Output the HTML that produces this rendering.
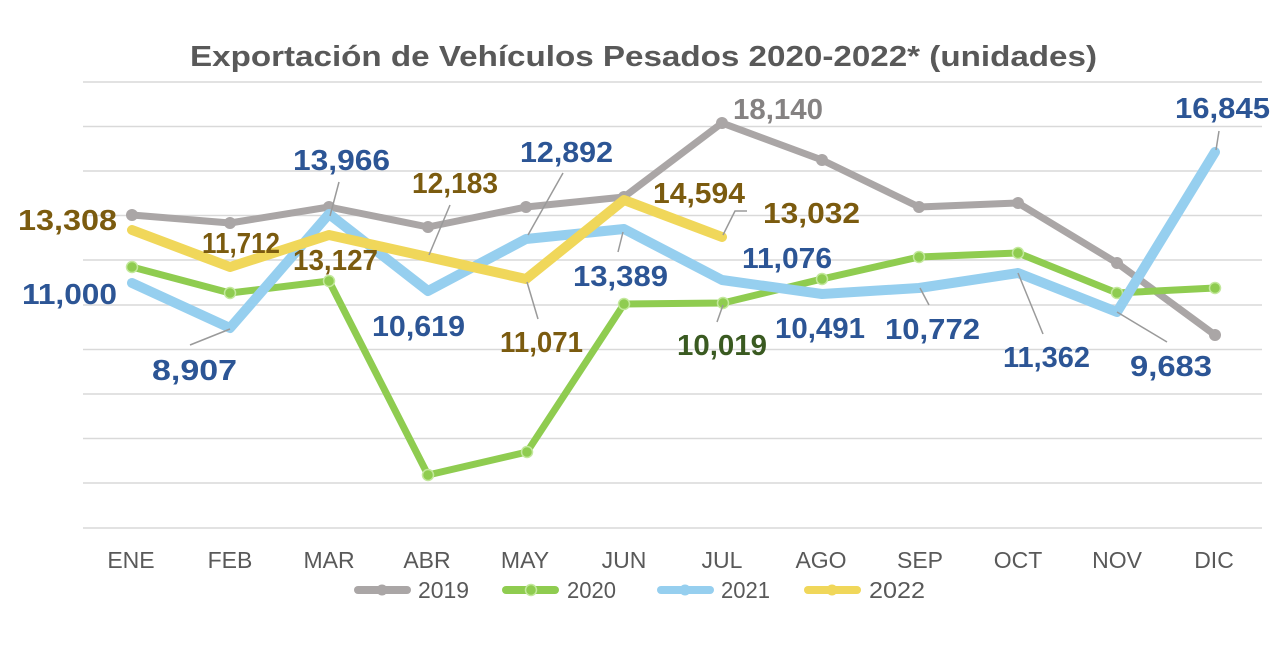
<!DOCTYPE html>
<html><head><meta charset="utf-8"><style>
html,body{margin:0;padding:0;background:#fff;}
svg{display:block;}
.lbl{font-family:"Liberation Sans",sans-serif;font-weight:bold;font-size:29px;}
.b{fill:#2c5595}.br{fill:#7b5b0f}.g{fill:#3a5a21}.gr{fill:#858282}
.ax{font-family:"Liberation Sans",sans-serif;font-size:23px;fill:#595959;}
.lg{font-family:"Liberation Sans",sans-serif;font-size:23px;fill:#595959;}
</style></head><body>
<svg width="1280" height="650" viewBox="0 0 1280 650" xmlns="http://www.w3.org/2000/svg">
<rect width="1280" height="650" fill="#fff"/>
<text x="190" y="66" textLength="907" lengthAdjust="spacingAndGlyphs" font-family="Liberation Sans, sans-serif" font-weight="bold" font-size="29" fill="#595959">Exportación de Vehículos Pesados 2020-2022* (unidades)</text>
<g stroke="#d9d9d9" stroke-width="1.5">
<line x1="83" x2="1262" y1="82" y2="82"/>
<line x1="83" x2="1262" y1="126.5" y2="126.5"/>
<line x1="83" x2="1262" y1="171" y2="171"/>
<line x1="83" x2="1262" y1="215.5" y2="215.5"/>
<line x1="83" x2="1262" y1="260" y2="260"/>
<line x1="83" x2="1262" y1="305" y2="305"/>
<line x1="83" x2="1262" y1="349.5" y2="349.5"/>
<line x1="83" x2="1262" y1="394" y2="394"/>
<line x1="83" x2="1262" y1="438.5" y2="438.5"/>
<line x1="83" x2="1262" y1="483" y2="483"/>
<line x1="83" x2="1262" y1="528" y2="528"/>
</g>
<!-- 2019 gray -->
<polyline fill="none" stroke="#aaa6a6" stroke-width="7" stroke-linejoin="round" stroke-linecap="round" points="132,215 230,223 329,207 428,227 526,207 624,197 722,123 822,160 919,207 1018,203 1117,263 1215,335"/>
<g fill="#aaa6a6">
<circle cx="132" cy="215" r="6"/><circle cx="230" cy="223" r="6"/><circle cx="329" cy="207" r="6"/><circle cx="428" cy="227" r="6"/><circle cx="526" cy="207" r="6"/><circle cx="624" cy="197" r="6"/><circle cx="722" cy="123" r="6"/><circle cx="822" cy="160" r="6"/><circle cx="919" cy="207" r="6"/><circle cx="1018" cy="203" r="6"/><circle cx="1117" cy="263" r="6"/><circle cx="1215" cy="335" r="6"/>
</g>
<!-- 2020 green -->
<polyline fill="none" stroke="#8fcc50" stroke-width="7" stroke-linejoin="round" stroke-linecap="round" points="132,267 230,293 329,281 428,475 527,452 624,304 723,303 822,279 919,257 1018,253 1117,293 1215,288"/>
<g fill="#8fcc50" stroke="#c3e89c" stroke-width="1.5">
<circle cx="132" cy="267" r="5.5"/><circle cx="230" cy="293" r="5.5"/><circle cx="329" cy="281" r="5.5"/><circle cx="428" cy="475" r="5.5"/><circle cx="527" cy="452" r="5.5"/><circle cx="624" cy="304" r="5.5"/><circle cx="723" cy="303" r="5.5"/><circle cx="822" cy="279" r="5.5"/><circle cx="919" cy="257" r="5.5"/><circle cx="1018" cy="253" r="5.5"/><circle cx="1117" cy="293" r="5.5"/><circle cx="1215" cy="288" r="5.5"/>
</g>
<!-- 2021 blue -->
<polyline fill="none" stroke="#96cfef" stroke-width="10" stroke-linejoin="round" stroke-linecap="round" points="132,283 230,328 329,214 428,291 526,239 624,229 722,280 822,294 919,288 1018,273 1117,312 1215,152"/>
<!-- 2022 yellow -->
<polyline fill="none" stroke="#f0d75a" stroke-width="10" stroke-linejoin="round" stroke-linecap="round" points="132,230 230,267 329,235 428,257 526,279 624,200 722,237"/>
<!-- leader lines -->
<g stroke="#9a9a9a" stroke-width="1.5" fill="none">
<line x1="339" y1="182" x2="330" y2="216"/>
<line x1="190" y1="345" x2="230" y2="329"/>
<line x1="450" y1="205" x2="429" y2="255"/>
<line x1="563" y1="173" x2="528" y2="235"/>
<line x1="527" y1="282" x2="538" y2="319"/>
<line x1="623" y1="232" x2="618" y2="252"/>
<polyline points="747,211 735,211 723,235"/>
<line x1="723" y1="305" x2="717" y2="322"/>
<line x1="920" y1="288" x2="929" y2="305"/>
<line x1="1018" y1="273" x2="1043" y2="334"/>
<line x1="1117" y1="312" x2="1167" y2="342"/>
<line x1="1219" y1="131" x2="1216" y2="150"/>
</g>
<!-- labels -->
<text class="lbl br" x="18" y="230" textLength="99" lengthAdjust="spacingAndGlyphs">13,308</text>
<text class="lbl b" x="22" y="304" textLength="95" lengthAdjust="spacingAndGlyphs">11,000</text>
<text class="lbl b" x="152" y="380" textLength="85" lengthAdjust="spacingAndGlyphs">8,907</text>
<text class="lbl b" x="293" y="170" textLength="97" lengthAdjust="spacingAndGlyphs">13,966</text>
<text class="lbl br" x="202" y="253" textLength="78" lengthAdjust="spacingAndGlyphs">11,712</text>
<text class="lbl br" x="293" y="270" textLength="85" lengthAdjust="spacingAndGlyphs">13,127</text>
<text class="lbl b" x="372" y="336" textLength="93" lengthAdjust="spacingAndGlyphs">10,619</text>
<text class="lbl br" x="412" y="193" textLength="86" lengthAdjust="spacingAndGlyphs">12,183</text>
<text class="lbl b" x="520" y="162" textLength="93" lengthAdjust="spacingAndGlyphs">12,892</text>
<text class="lbl br" x="500" y="352" textLength="83" lengthAdjust="spacingAndGlyphs">11,071</text>
<text class="lbl b" x="573" y="286" textLength="95" lengthAdjust="spacingAndGlyphs">13,389</text>
<text class="lbl br" x="653" y="203" textLength="92" lengthAdjust="spacingAndGlyphs">14,594</text>
<text class="lbl br" x="763" y="223" textLength="97" lengthAdjust="spacingAndGlyphs">13,032</text>
<text class="lbl b" x="742" y="268" textLength="90" lengthAdjust="spacingAndGlyphs">11,076</text>
<text class="lbl g" x="677" y="355" textLength="90" lengthAdjust="spacingAndGlyphs">10,019</text>
<text class="lbl b" x="775" y="338" textLength="90" lengthAdjust="spacingAndGlyphs">10,491</text>
<text class="lbl gr" x="733" y="119" textLength="90" lengthAdjust="spacingAndGlyphs">18,140</text>
<text class="lbl b" x="885" y="339" textLength="95" lengthAdjust="spacingAndGlyphs">10,772</text>
<text class="lbl b" x="1003" y="367" textLength="87" lengthAdjust="spacingAndGlyphs">11,362</text>
<text class="lbl b" x="1130" y="376" textLength="82" lengthAdjust="spacingAndGlyphs">9,683</text>
<text class="lbl b" x="1175" y="118" textLength="95" lengthAdjust="spacingAndGlyphs">16,845</text>
<!-- x axis -->
<g class="ax" text-anchor="middle">
<text x="131" y="568">ENE</text>
<text x="230" y="568">FEB</text>
<text x="329" y="568">MAR</text>
<text x="427" y="568">ABR</text>
<text x="525" y="568">MAY</text>
<text x="624" y="568">JUN</text>
<text x="722" y="568">JUL</text>
<text x="821" y="568">AGO</text>
<text x="920" y="568">SEP</text>
<text x="1018" y="568">OCT</text>
<text x="1117" y="568">NOV</text>
<text x="1214" y="568">DIC</text>
</g>
<!-- legend -->
<g stroke-linecap="round" stroke-width="8">
<line x1="358" y1="590" x2="407" y2="590" stroke="#aaa6a6"/>
<line x1="506" y1="590" x2="555" y2="590" stroke="#8fcc50"/>
<line x1="661" y1="590" x2="710" y2="590" stroke="#96cfef"/>
<line x1="808" y1="590" x2="857" y2="590" stroke="#f0d75a"/>
</g>
<circle cx="382" cy="590" r="5.5" fill="#aaa6a6"/>
<circle cx="531" cy="590" r="5.5" fill="#8fcc50" stroke="#c3e89c" stroke-width="1.5"/>
<circle cx="685" cy="590" r="5.5" fill="#96cfef"/>
<circle cx="832" cy="590" r="5.5" fill="#f0d75a"/>
<g class="lg">
<text x="418" y="598" textLength="51" lengthAdjust="spacingAndGlyphs">2019</text>
<text x="567" y="598" textLength="49" lengthAdjust="spacingAndGlyphs">2020</text>
<text x="721" y="598" textLength="49" lengthAdjust="spacingAndGlyphs">2021</text>
<text x="869" y="598" textLength="56" lengthAdjust="spacingAndGlyphs">2022</text>
</g>
</svg>
</body></html>
